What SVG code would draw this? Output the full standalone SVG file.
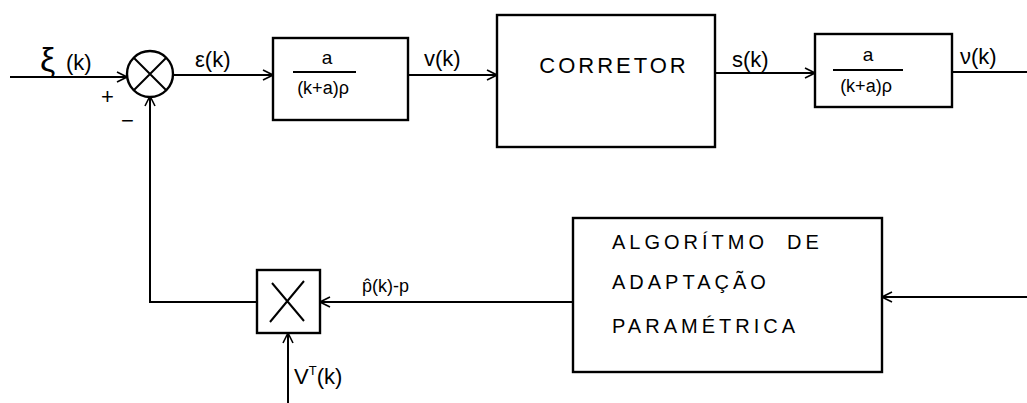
<svg xmlns="http://www.w3.org/2000/svg" width="1027" height="403" viewBox="0 0 1027 403">
<defs>
<marker id="arr" viewBox="0 0 12 12" refX="11" refY="6" markerWidth="12" markerHeight="12" markerUnits="userSpaceOnUse" orient="auto">
<path d="M1,1 L11,6 L1,11" fill="none" stroke="#000" stroke-width="1.6"/>
</marker>
<style>
.ln{fill:none;stroke:#000;stroke-width:2}
.bx{fill:#fff;stroke:#000;stroke-width:2.4}
.t{font-family:"Liberation Sans",Arial,sans-serif;fill:#000}
.lab{font-size:22px}
.cap{font-size:20px;letter-spacing:4px}
</style>
</defs>
<rect width="1027" height="403" fill="#fff"/>
<g id="connectors">
<path class="ln" d="M10,77 L127,77" marker-end="url(#arr)"/>
<path class="ln" d="M173,75 L273,75" marker-end="url(#arr)"/>
<path class="ln" d="M408,75 L497,75" marker-end="url(#arr)"/>
<path class="ln" d="M715,73 L815,73" marker-end="url(#arr)"/>
<path class="ln" d="M952,72 L1027,72"/>
<path class="ln" d="M257,302 L150,302 L150,96" marker-end="url(#arr)"/>
<path class="ln" d="M573,302 L320,302" marker-end="url(#arr)"/>
<path class="ln" d="M288,403 L288,333" marker-end="url(#arr)"/>
<path class="ln" d="M1027,297 L882,297" marker-end="url(#arr)"/>
</g>
<g id="sum">
<circle class="bx" cx="150" cy="74" r="23"/>
<path class="ln" d="M134,58 L166,90 M166,58 L134,90"/>
<text class="t" x="101" y="104" font-size="22">+</text>
<text class="t" x="121" y="128" font-size="22">−</text>
</g>
<g id="block1">
<rect class="bx" x="273" y="38" width="135" height="82"/>
<text class="t" x="327" y="64" font-size="19" text-anchor="middle">a</text>
<path class="ln" d="M293,72 L356,72" stroke-width="1.8"/>
<text class="t" x="323" y="94" font-size="18" text-anchor="middle">(k+a)ρ</text>
</g>
<g id="corretor">
<rect class="bx" x="497" y="15" width="218" height="132"/>
<text class="t" x="614" y="73" font-size="22" letter-spacing="3" text-anchor="middle">CORRETOR</text>
</g>
<g id="block2">
<rect class="bx" x="815" y="34" width="137" height="73"/>
<text class="t" x="868" y="61" font-size="19" text-anchor="middle">a</text>
<path class="ln" d="M833,70 L903,70" stroke-width="1.8"/>
<text class="t" x="866" y="92" font-size="18" text-anchor="middle">(k+a)ρ</text>
</g>
<g id="mult">
<rect class="bx" x="257" y="270" width="63" height="63"/>
<path class="ln" d="M272,283 L304,321 M304,281 L270,322"/>
</g>
<g id="algoritmo">
<rect class="bx" x="573" y="218" width="309" height="154"/>
<text class="t cap" x="612" y="249" xml:space="preserve">ALGORÍTMO  DE</text>
<text class="t cap" x="612" y="289">ADAPTAÇÃO</text>
<text class="t cap" x="612" y="333" letter-spacing="5">PARAMÉTRICA</text>
</g>
<g id="labels">
<text class="t" x="40" y="71" font-size="34">ξ</text>
<text class="t lab" x="66" y="70">(k)</text>
<text class="t lab" x="195" y="67">ε(k)</text>
<text class="t lab" x="424" y="66">v(k)</text>
<text class="t lab" x="732" y="67">s(k)</text>
<text class="t lab" x="960" y="64">ν(k)</text>
<text class="t" x="362" y="292" font-size="18">p̂(k)-p</text>
<text class="t lab" x="294" y="384">V<tspan font-size="13" dy="-9">T</tspan><tspan dy="9">(k)</tspan></text>
</g>
</svg>
